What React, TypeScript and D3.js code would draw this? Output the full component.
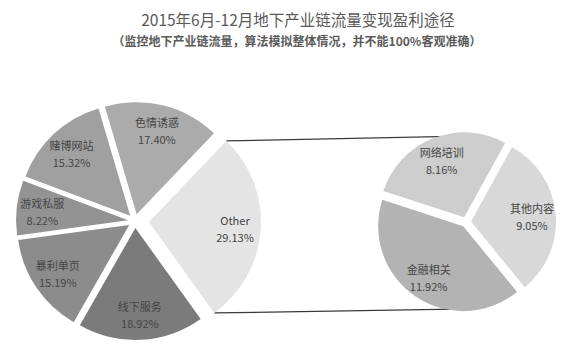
import React from "react";
import * as d3 from "d3";

const W = 581;
const H = 345;

// Main pie (the "Other" slice is broken out into the secondary pie)
const mainNames = ["Other", "线下服务", "暴利单页", "游戏私服", "赌博网站", "色情诱惑"];
const mainValues = [29.13, 18.92, 15.19, 8.22, 15.32, 17.4];
const mainColors = ["#e4e4e4", "#7b7b7b", "#8c8c8c", "#939393", "#a0a0a0", "#ababab"];

// Secondary pie: breakdown of "Other"
const subNames = ["网络培训", "其他内容", "金融相关"];
const subValues = [8.16, 9.05, 11.92];
const subColors = ["#cdcdcd", "#d8d8d8", "#b3b3b3"];

const title = "2015年6月-12月地下产业链流量变现盈利途径";
const subtitle = "（监控地下产业链流量，算法模拟整体情况，并不能100%客观准确）";

const FONT = "'Noto Sans CJK SC', 'Noto Sans', sans-serif";

type Slice = d3.PieArcDatum<number> & { name: string; color: string };

function buildSlices(values: number[], names: string[], colors: string[], start: number): Slice[] {
  const pie = d3.pie<number>().sort(null).value((d) => d).startAngle(start).endAngle(start + 2 * Math.PI);
  return pie(values).map((a, i) => ({ ...a, name: names[i], color: colors[i] }));
}

function offsetOf(s: Slice, dist: number): [number, number] {
  const mid = (s.startAngle + s.endAngle) / 2;
  return [Math.sin(mid) * dist, -Math.cos(mid) * dist];
}

const rad = (deg: number) => (deg * Math.PI) / 180;

export default function App() {
  const total = d3.sum(mainValues);
  const otherSpan = (mainValues[0] / total) * 2 * Math.PI;
  const mainStart = Math.PI / 2 - otherSpan / 2 + rad(4);

  const c1: [number, number] = [135, 221];
  const r1 = 112;
  const explode1 = 7;
  const explodeOther = 14;

  const c2: [number, number] = [466, 222];
  const r2 = 85;
  const explode2 = 5;

  const mainSlices = buildSlices(mainValues, mainNames, mainColors, mainStart);
  const subSlices = buildSlices(subValues, subNames, subColors, rad(-72));

  const arc1 = d3.arc<Slice>().innerRadius(0).outerRadius(r1);
  const arc2 = d3.arc<Slice>().innerRadius(0).outerRadius(r2);

  // connector lines: from corners of the "Other" slice to the top/bottom of the secondary pie
  const other = mainSlices[0];
  const [ox, oy] = offsetOf(other, explodeOther);
  const cornerTop: [number, number] = [c1[0] + ox + Math.sin(other.startAngle) * r1, c1[1] + oy - Math.cos(other.startAngle) * r1];
  const cornerBot: [number, number] = [c1[0] + ox + Math.sin(other.endAngle) * r1, c1[1] + oy - Math.cos(other.endAngle) * r1];
  const tA = rad(-10);
  const bA = rad(188);
  const subTop: [number, number] = [c2[0] + Math.sin(tA) * (r2 + 2), c2[1] - Math.cos(tA) * (r2 + 2)];
  const subBot: [number, number] = [c2[0] + Math.sin(bA) * (r2 + 3), c2[1] - Math.cos(bA) * (r2 + 3)];

  const labelArc1 = d3.arc<Slice>().innerRadius(r1 * 0.77).outerRadius(r1 * 0.77);
  const labelArc2 = d3.arc<Slice>().innerRadius(r2 * 0.72).outerRadius(r2 * 0.72);

  const renderLabel = (s: Slice, pos: [number, number], key: string) => (
    <text key={key} x={pos[0]} y={pos[1]} textAnchor="middle" fontFamily={FONT} fontSize={11} fill="#454545">
      <tspan x={pos[0]} dy={-3}>{s.name}</tspan>
      <tspan x={pos[0]} dy={17}>{s.value.toFixed(2)}%</tspan>
    </text>
  );

  return (
    <svg width={W} height={H} style={{ position: "absolute", left: 0, top: 0, background: "#fff" }}>
      <text x={298} y={26} textAnchor="middle" fontFamily={FONT} fontSize={15.5} fill="#595959">
        {title}
      </text>
      <text x={297} y={46} textAnchor="middle" fontFamily={FONT} fontSize={12} fontWeight="bold" fill="#5a5a5a">
        {subtitle}
      </text>

      <line x1={cornerTop[0]} y1={cornerTop[1]} x2={subTop[0]} y2={subTop[1]} stroke="#3a3a3a" strokeWidth={1.3} />
      <line x1={cornerBot[0]} y1={cornerBot[1]} x2={subBot[0]} y2={subBot[1]} stroke="#3a3a3a" strokeWidth={1.3} />

      {mainSlices.map((s, i) => {
        const [dx, dy] = offsetOf(s, i === 0 ? explodeOther : explode1);
        const ctr = labelArc1.centroid(s);
        return (
          <g key={s.name} transform={`translate(${c1[0] + dx},${c1[1] + dy})`}>
            <path d={arc1(s) || ""} fill={s.color} />
            {renderLabel(s, [ctr[0], ctr[1]], s.name + "-l")}
          </g>
        );
      })}

      {subSlices.map((s) => {
        const [dx, dy] = offsetOf(s, explode2);
        const ctr = labelArc2.centroid(s);
        return (
          <g key={s.name} transform={`translate(${c2[0] + dx},${c2[1] + dy})`}>
            <path d={arc2(s) || ""} fill={s.color} />
            {renderLabel(s, [ctr[0], ctr[1]], s.name + "-l")}
          </g>
        );
      })}
    </svg>
  );
}
